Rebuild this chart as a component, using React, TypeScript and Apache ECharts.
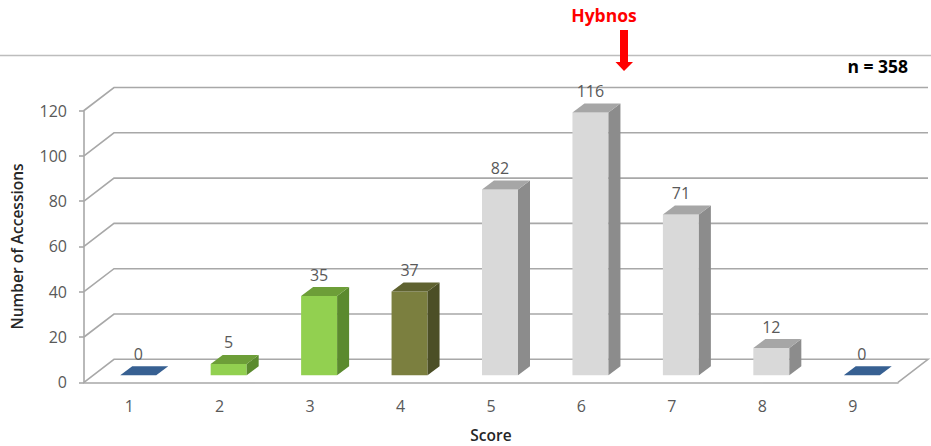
import React, { useEffect, useRef } from "react";
import * as echarts from "echarts";

const scores = ["1", "2", "3", "4", "5", "6", "7", "8", "9"];
const accessions = [0, 5, 35, 37, 82, 116, 71, 12, 0];
const gridTicks = [0, 20, 40, 60, 80, 100, 120];
const scoreGroups = ["empty", "lime", "lime", "olive", "grey", "grey", "grey", "grey", "empty"];

const faces: Record<string, { front: string; top: string; side: string }> = {
  empty: { front: "#376092", top: "#376092", side: "#376092" },
  lime: { front: "#92d050", top: "#6d9e38", side: "#5b8a2e" },
  olive: { front: "#7b7f3f", top: "#5f6230", side: "#4c4f26" },
  grey: { front: "#d9d9d9", top: "#a6a6a6", side: "#8c8c8c" },
};

// Depth of the chart floor and of each box, in pixels.
const WALL_DX = 30;
const WALL_DY = 23;
const BAR_DX = 12;
const BAR_DY = 9;
const BAR_LIFT_X = 9;
const BAR_LIFT_Y = 7;
const BAR_WIDTH = 36;

const GRID_COLOR = "#a8a8a8";
const TEXT_FONT = "'Open Sans', sans-serif";

function renderGridLine(params: any, api: any) {
  const sys = params.coordSys;
  const y = api.coord([0, api.value(1)])[1];
  const left = sys.x;
  const right = sys.x + sys.width;
  const isFloor = api.value(1) === 0;
  const points = [
    [left, y],
    [left + WALL_DX, y - WALL_DY],
    [right + WALL_DX, y - WALL_DY],
  ];
  if (isFloor) points.push([right, y]);
  return {
    type: "polyline",
    shape: { points },
    style: { stroke: GRID_COLOR, lineWidth: 1.6, fill: "none" },
  };
}

function renderBox(params: any, api: any) {
  const idx = api.value(0);
  const value = api.value(1);
  const group = faces[scoreGroups[idx]];
  const [cx, yTop0] = api.coord([idx, value]);
  const [, yBase0] = api.coord([idx, 0]);
  const x0 = cx + BAR_LIFT_X - BAR_WIDTH / 2;
  const x1 = x0 + BAR_WIDTH;
  const yTop = yTop0 - BAR_LIFT_Y;
  const yBase = yBase0 - BAR_LIFT_Y;
  const children: any[] = [];
  if (value > 0) {
    children.push({
      type: "rect",
      shape: { x: x0, y: yTop, width: BAR_WIDTH, height: yBase - yTop },
      style: { fill: group.front },
    });
    children.push({
      type: "polygon",
      shape: {
        points: [
          [x1, yTop],
          [x1 + BAR_DX, yTop - BAR_DY],
          [x1 + BAR_DX, yBase - BAR_DY],
          [x1, yBase],
        ],
      },
      style: { fill: group.side },
    });
  }
  children.push({
    type: "polygon",
    shape: {
      points: [
        [x0, yTop],
        [x0 + BAR_DX, yTop - BAR_DY],
        [x1 + BAR_DX, yTop - BAR_DY],
        [x1, yTop],
      ],
    },
    style: { fill: group.top },
  });
  children.push({
    type: "text",
    style: {
      x: cx + BAR_LIFT_X,
      y: yTop - 21.5,
      text: String(value),
      fill: "#595959",
      font: `16px ${TEXT_FONT}`,
      align: "center",
      verticalAlign: "middle",
    },
  });
  return { type: "group", children };
}

export default function App() {
  const ref = useRef<HTMLDivElement>(null);

  useEffect(() => {
    document.body.style.margin = "0";
    const chart = echarts.init(ref.current!, undefined, { renderer: "svg" });
    chart.setOption({
      animation: false,
      backgroundColor: "#ffffff",
      grid: { left: 84, top: 110.5, width: 814, height: 271.8, outerBoundsMode: "none" },
      xAxis: {
        type: "category",
        data: scores,
        name: "Score",
        nameLocation: "middle",
        nameGap: 45,
        nameTextStyle: { fontFamily: TEXT_FONT, fontSize: 15.5, fontWeight: 600, color: "#262626" },
        axisLine: { lineStyle: { color: GRID_COLOR, width: 1.6 } },
        axisTick: { length: 5, lineStyle: { color: GRID_COLOR, width: 1.6 } },
        axisLabel: { margin: 16, fontFamily: TEXT_FONT, fontSize: 16, color: "#595959" },
      },
      yAxis: {
        type: "value",
        min: 0,
        max: 120,
        interval: 20,
        name: "Number of Accessions",
        nameLocation: "middle",
        nameGap: 59,
        nameTextStyle: { fontFamily: TEXT_FONT, fontSize: 15.5, fontWeight: 600, color: "#262626" },
        axisLine: { show: true, lineStyle: { color: GRID_COLOR, width: 1.6 } },
        axisTick: { show: true, length: 5, lineStyle: { color: GRID_COLOR, width: 1.6 } },
        axisLabel: { margin: 17, fontFamily: TEXT_FONT, fontSize: 16, color: "#595959" },
        splitLine: { show: false },
      },
      series: [
        {
          type: "custom",
          silent: true,
          renderItem: renderGridLine,
          encode: { x: 0, y: 1 },
          data: gridTicks.map((v) => [0, v]),
          z: 1,
        },
        {
          type: "custom",
          silent: true,
          renderItem: renderBox,
          encode: { x: 0, y: 1 },
          data: accessions.map((v, i) => [i, v]),
          z: 2,
        },
      ],
      graphic: [
        {
          type: "line",
          shape: { x1: 0, y1: 55.5, x2: 931, y2: 55.5 },
          style: { stroke: "#bdbdbd", lineWidth: 1.6 },
        },
        {
          type: "text",
          x: 604,
          y: 15,
          style: {
            text: "Hybnos",
            fill: "#ff0000",
            font: `bold 17.5px ${TEXT_FONT}`,
            align: "center",
            verticalAlign: "middle",
          },
        },
        {
          type: "polygon",
          shape: {
            points: [
              [620, 30],
              [628, 30],
              [628, 62],
              [633, 62],
              [624, 71],
              [615.5, 62],
              [620, 62],
            ],
          },
          style: { fill: "#ff0000" },
        },
        {
          type: "text",
          x: 908,
          y: 66,
          style: {
            text: "n = 358",
            fill: "#000000",
            font: `bold 17.5px ${TEXT_FONT}`,
            align: "right",
            verticalAlign: "middle",
          },
        },
      ],
    });
    return () => chart.dispose();
  }, []);

  return <div ref={ref} style={{ width: 931, height: 446 }} />;
}
